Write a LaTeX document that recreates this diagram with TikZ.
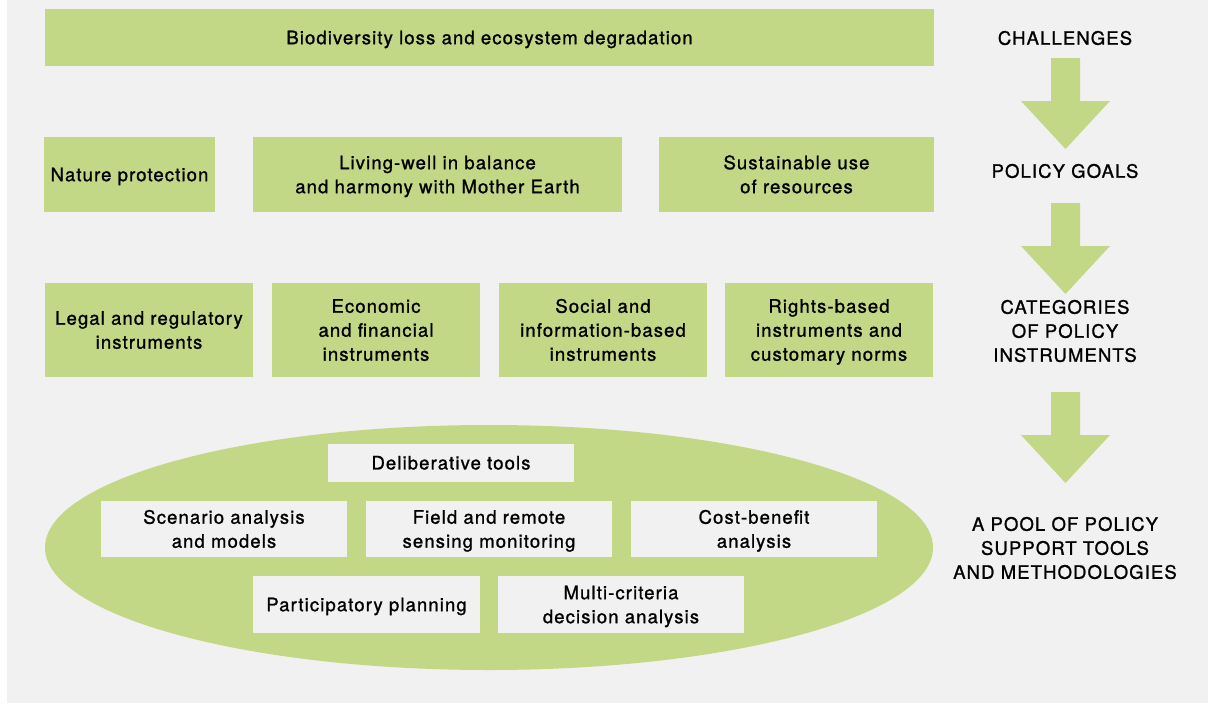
\documentclass[tikz,border=0pt]{standalone}
\usepackage{fontspec}
\setmainfont{TeX Gyre Heros}[LetterSpace=6, FakeBold=1.2]
\usetikzlibrary{shapes.geometric}
\definecolor{leaf}{RGB}{194,216,135}
\definecolor{paper}{RGB}{241,241,241}
\newcommand{\mytop}{\rule{0pt}{18pt}}
\newcommand{\mybot}{\rule[-4.6pt]{0pt}{0pt}}
\tikzset{
  txt/.style={font=\fontsize{18.5}{24}\selectfont, align=center, inner sep=0pt, text=black},
  gbox/.style={txt, fill=leaf},
  wbox/.style={txt, fill=paper},
  levellabel/.style={txt},
  downarrow/.pic={\fill[leaf] (-14.5,0) -- (14.5,0) -- (14.5,43) -- (44.5,43) -- (0,91) -- (-44.5,43) -- (-14.5,43) -- cycle;}
}
\begin{document}
\begin{tikzpicture}[x=1pt,y=-1pt]
\useasboundingbox (0,0) rectangle (1208,710);
\fill[white] (0,0) rectangle (1208,710);
\fill[paper] (7,0) rectangle (1208,703);

% challenges
\node[gbox, minimum width=889pt, minimum height=57pt] (bio) at (489.5,37.5) {\mytop Biodiversity loss and ecosystem degradation\mybot};

% policy goals
\node[gbox, minimum width=171pt, minimum height=75pt] (nature) at (129.5,174.5) {\mytop Nature protection\mybot};
\node[gbox, minimum width=369pt, minimum height=75pt] (living) at (437.5,174.5) {\mytop Living-well in balance\\and harmony with Mother Earth\mybot};
\node[gbox, minimum width=275pt, minimum height=75pt] (sust) at (796.5,174.5) {\mytop Sustainable use\\of resources\mybot};

% instruments
\node[gbox, minimum width=208pt, minimum height=94pt] (legal) at (149,330) {\mytop Legal and regulatory\\instruments\mybot};
\node[gbox, minimum width=208pt, minimum height=94pt] (econ) at (376,330) {\mytop Economic\\and financial\\instruments\mybot};
\node[gbox, minimum width=208pt, minimum height=94pt] (social) at (603,330) {\mytop Social and\\information-based\\instruments\mybot};
\node[gbox, minimum width=208pt, minimum height=94pt] (rights) at (829,330) {\mytop Rights-based\\instruments and\\customary norms\mybot};

% pool
\node[ellipse, fill=leaf, inner sep=0pt, minimum width=888pt, minimum height=245pt] (pool) at (489,547.5) {};
\node[wbox, minimum width=246pt, minimum height=37.5pt] (delib) at (451,462.75) {\mytop Deliberative tools\mybot};
\node[wbox, minimum width=246pt, minimum height=56pt] (scen) at (224,529) {\mytop Scenario analysis\\and models\mybot};
\node[wbox, minimum width=246pt, minimum height=56pt] (field) at (489,529) {\mytop Field and remote\\sensing monitoring\mybot};
\node[wbox, minimum width=246pt, minimum height=56pt] (cost) at (754,529) {\mytop Cost-benefit\\analysis\mybot};
\node[wbox, minimum width=227pt, minimum height=57pt] (part) at (366.5,604.5) {\mytop Participatory planning\mybot};
\node[wbox, minimum width=246pt, minimum height=57pt] (multi) at (621,604.5) {\mytop Multi-criteria\\decision analysis\mybot};

% level labels
\node[levellabel] (l1) at (1065,38) {CHALLENGES};
\node[levellabel] (l2) at (1065,171) {POLICY GOALS};
\node[levellabel] (l3) at (1065,331) {CATEGORIES\\OF POLICY\\INSTRUMENTS};
\node[levellabel] (l4) at (1065,548) {A POOL OF POLICY\\SUPPORT TOOLS\\AND METHODOLOGIES};

% arrows
\pic at (1065.5,58) {downarrow};
\pic at (1065.5,203) {downarrow};
\pic at (1065.5,392) {downarrow};
\end{tikzpicture}
\end{document}
